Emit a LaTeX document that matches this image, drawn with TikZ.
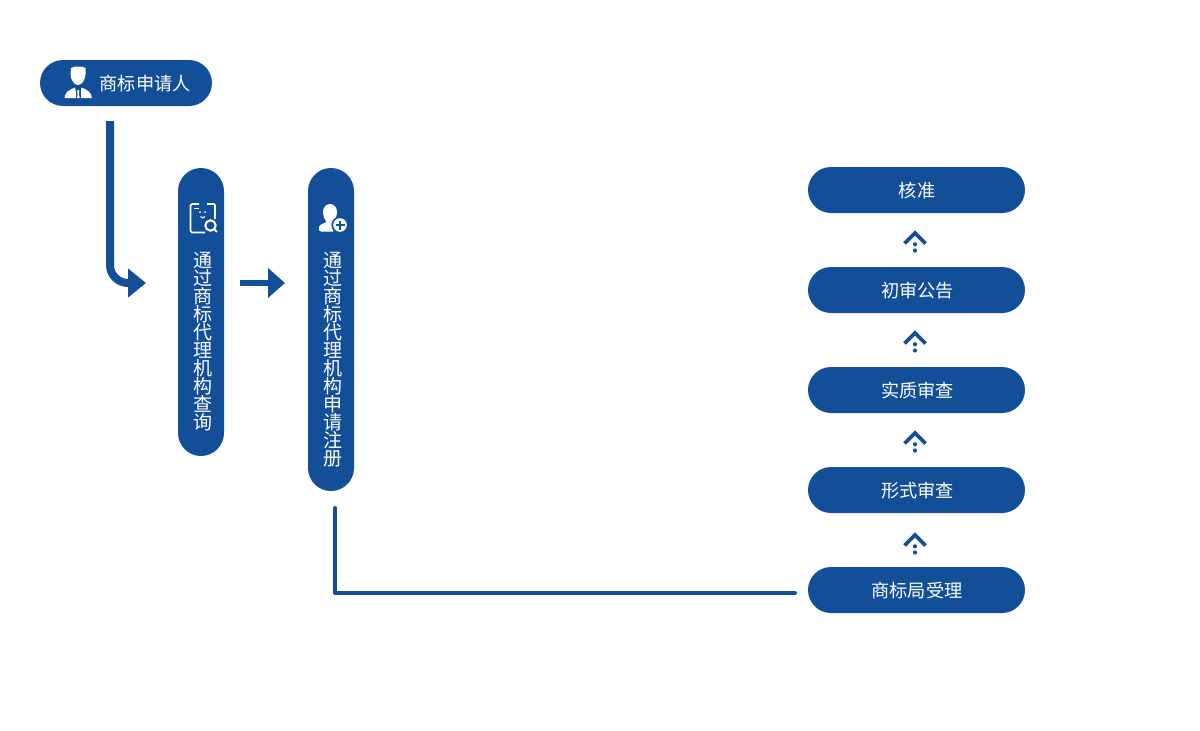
\documentclass[tikz,border=0pt]{standalone}
\usepackage{fontspec}
\setmainfont{Noto Sans CJK SC}
\usetikzlibrary{arrows.meta}
\definecolor{tmblue}{HTML}{124F98}
\tikzset{
  pill/.style={fill=tmblue,rounded corners=23pt,inner sep=0pt,text=white,font=\fontsize{18}{18}\selectfont},
  pilltext/.style={text=white,inner sep=0pt,font=\fontsize{18.2}{18}\selectfont},
  vlabel/.style={text=white,inner sep=0pt,align=center,font=\fontsize{19}{18}\selectfont},
  flowline/.style={tmblue,line width=8pt},
  thinline/.style={tmblue,line width=4pt,line cap=round,line join=round},
  iconline/.style={white,line width=1.6pt},
  pics/upchev/.style={code={
    \draw[tmblue,line width=3.6pt,line join=miter] (-10.5,10.5) -- (0,0) -- (10.5,10.5);
    \fill[tmblue] (0,11.3) circle (2.1pt) (0,17.5) circle (2.1pt);
  }}
}
\begin{document}
\begin{tikzpicture}[x=1pt,y=-1pt]
\useasboundingbox (0,0) rectangle (1200,731);
% pills
\node[pill,minimum width=172pt,minimum height=46pt] (applicant) at (126,83) {};
\node[pilltext,anchor=west] (applabel) at (99.5,84) {商标申请人};
\node[pill,minimum width=46pt,minimum height=288pt] (query) at (201,312) {};
\node[vlabel] (qlabel) at (202.5,341.5) {通\\过\\商\\标\\代\\理\\机\\构\\查\\询};
\node[pill,minimum width=46pt,minimum height=323pt] (reg) at (331,329.5) {};
\node[vlabel] (rlabel) at (332.5,359.5) {通\\过\\商\\标\\代\\理\\机\\构\\申\\请\\注\\册};
\node[pill,minimum width=217pt,minimum height=46pt] (approve) at (916.5,190) {};
\node[pilltext] (approvetxt) at (917,191) {核准};
\node[pill,minimum width=217pt,minimum height=46pt] (notice) at (916.5,290) {};
\node[pilltext] (noticetxt) at (917.5,291) {初审公告};
\node[pill,minimum width=217pt,minimum height=46pt] (substantive) at (916.5,390) {};
\node[pilltext] (substantivetxt) at (917.5,391) {实质审查};
\node[pill,minimum width=217pt,minimum height=46pt] (formal) at (916.5,490) {};
\node[pilltext] (formaltxt) at (917.5,491) {形式审查};
\node[pill,minimum width=217pt,minimum height=46pt] (accept) at (916.5,590) {};
\node[pilltext] (accepttxt) at (917,591) {商标局受理};
% connectors
\coordinate (c1a) at (110,121);
\coordinate (c1b) at (146,283);
\draw[flowline,rounded corners=18pt,-{Triangle[length=18pt,width=28pt]}] (c1a) |- (c1b);
\coordinate (c2a) at (240,283);
\coordinate (c2b) at (285,283);
\draw[tmblue,line width=6.5pt,-{Triangle[length=17pt,width=29pt]}] (c2a) -- (c2b);
\coordinate (c3a) at (335,508);
\coordinate (c3b) at (795,593);
\draw[thinline] (c3a) |- (c3b);
% chevrons
\pic at (915,233) {upchev};
\pic at (915,333) {upchev};
\pic at (915,433) {upchev};
\pic at (915,535) {upchev};
% applicant icon
\fill[white] (71,68) .. controls (74,66) and (82,66) .. (85.5,68)
  -- (85.5,74) .. controls (85.5,80) and (81.5,85) .. (78,85)
  .. controls (74.5,85) and (70.5,80) .. (70.5,74) -- cycle;
\fill[white] (64.5,98) .. controls (65,92) and (69,90) .. (75,87.5) -- (77.2,98) -- cycle;
\fill[white] (91.8,98) .. controls (91.5,92) and (87.5,90) .. (81.5,87.5) -- (79.3,98) -- cycle;
\fill[white] (77.5,90) -- (79,90) -- (79.3,98) -- (77.2,98) -- cycle;
\draw[tmblue,line width=.8pt] (76.3,90) -- (76.3,98) (80.2,90) -- (80.2,98);
% query icon
\draw[iconline,line join=round] (199,204) -- (192,204) -- (190.5,205.5) -- (190.5,231) -- (192,232.5) -- (205,232.5);
\draw[iconline,line join=round] (207,204) -- (214,204) -- (215,205) -- (215,219);
\draw[white,line width=1pt] (194,208) -- (199,208);
\fill[white] (200,212) circle (1pt) (205,212) circle (1pt);
\draw[white,line width=1.1pt] (200.5,216.5) .. controls (201.5,218.5) and (204,218.5) .. (205,216.5);
\draw[white,line width=2pt] (210.5,225.5) circle (5.2pt);
\draw[white,line width=2pt] (214.3,229.2) -- (217,232);
% add-user icon
\fill[white] (330,204) .. controls (334.5,204) and (337,208) .. (337,212)
  .. controls (337,216) and (335,220) .. (333.5,222) -- (335,225) -- (333,231.5)
  -- (321,231.5) .. controls (319,231.5) and (318.5,230) .. (319,227)
  .. controls (320,224) and (324,223.5) .. (326.5,222)
  .. controls (325,220) and (323,216) .. (323,212)
  .. controls (323,208) and (325.5,204) .. (330,204) -- cycle;
\fill[tmblue] (340,225) circle (8.6pt);
\fill[white] (340,225) circle (6.8pt);
\draw[tmblue,line width=1.8pt] (335.5,225) -- (344.5,225) (340,220.5) -- (340,229.5);
\end{tikzpicture}
\end{document}
